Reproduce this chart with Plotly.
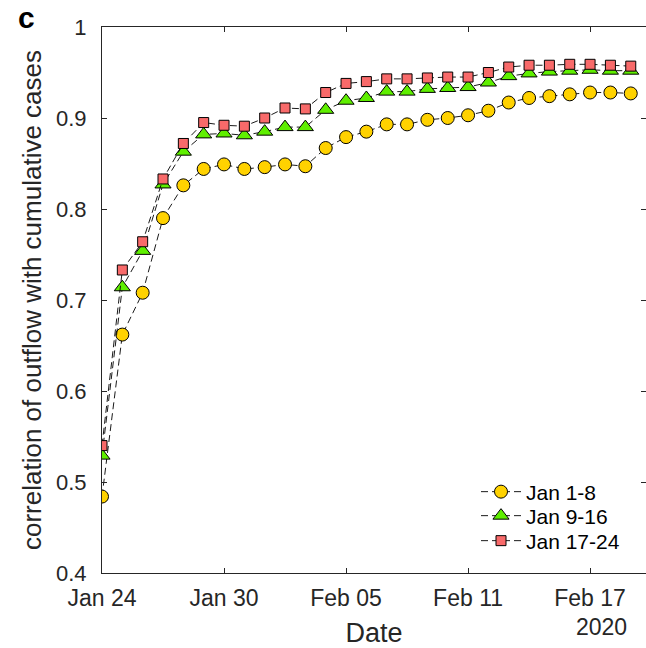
import plotly.graph_objects as go

dates = ["2020-01-24", "2020-01-25", "2020-01-26", "2020-01-27", "2020-01-28",
         "2020-01-29", "2020-01-30", "2020-01-31", "2020-02-01", "2020-02-02",
         "2020-02-03", "2020-02-04", "2020-02-05", "2020-02-06", "2020-02-07",
         "2020-02-08", "2020-02-09", "2020-02-10", "2020-02-11", "2020-02-12",
         "2020-02-13", "2020-02-14", "2020-02-15", "2020-02-16", "2020-02-17",
         "2020-02-18", "2020-02-19"]

jan_1_8 = [0.484, 0.662, 0.708, 0.790, 0.826, 0.844, 0.849, 0.844, 0.846, 0.849,
           0.847, 0.867, 0.879, 0.885, 0.893, 0.893, 0.898, 0.900, 0.903, 0.908,
           0.917, 0.922, 0.924, 0.926, 0.928, 0.928, 0.927]
jan_9_16 = [0.529, 0.714, 0.754, 0.827, 0.863, 0.882, 0.883, 0.881, 0.885, 0.890,
            0.890, 0.909, 0.919, 0.922, 0.929, 0.929, 0.932, 0.933, 0.934, 0.939,
            0.946, 0.949, 0.951, 0.952, 0.953, 0.952, 0.952]
jan_17_24 = [0.540, 0.733, 0.764, 0.833, 0.872, 0.895, 0.892, 0.891, 0.900, 0.911,
             0.910, 0.928, 0.938, 0.940, 0.943, 0.943, 0.944, 0.945, 0.945, 0.950,
             0.956, 0.958, 0.958, 0.959, 0.959, 0.958, 0.957]

series_names = ["Jan 1-8", "Jan 9-16", "Jan 17-24"]
y_ticks = [0.4, 0.5, 0.6, 0.7, 0.8, 0.9, 1.0]
y_tick_text = ["0.4", "0.5", "0.6", "0.7", "0.8", "0.9", "1"]

FONT = "Liberation Sans, Arial, Helvetica, sans-serif"
AX = "#262626"

styles = [
    dict(symbol="circle", size=13, color="#FFD200"),
    dict(symbol="triangle-up", size=14, color="#5FEF00"),
    dict(symbol="square", size=10, color="#F86A6A"),
]
legend_ids = ["legend", "legend2", "legend3"]
legend_rows_px = [492, 516, 541]

fig = go.Figure()
for name, vals, st, lid in zip(series_names, [jan_1_8, jan_9_16, jan_17_24], styles, legend_ids):
    fig.add_trace(go.Scatter(
        x=dates, y=vals, name=name, mode="lines+markers", legend=lid,
        line=dict(color="black", width=0.9, dash="7px,4px"),
        marker=dict(symbol=st["symbol"], size=st["size"], color=st["color"],
                    line=dict(color="black", width=1)),
    ))

# invisible trace to hold the right-side tick axis
fig.add_trace(go.Scatter(x=[dates[0]], y=[0.4], yaxis="y2", mode="markers",
                         marker=dict(opacity=0), showlegend=False, hoverinfo="skip"))

legend_common = dict(xanchor="left", yanchor="middle", bgcolor="rgba(0,0,0,0)",
                     font=dict(size=21, color="black"), itemwidth=40,
                     borderwidth=0)
legends = {}
for lid, ypx in zip(legend_ids, legend_rows_px):
    legends[lid] = dict(legend_common, x=(476 - 102) / 544, y=(573 - ypx) / 546)

fig.update_layout(
    width=646, height=648,
    margin=dict(l=102, r=0, t=27, b=75),
    paper_bgcolor="white", plot_bgcolor="white",
    font=dict(family=FONT, color=AX, size=22),
    showlegend=True,
    **legends,
    xaxis=dict(
        type="date", range=["2020-01-24", "2020-02-19 18:00"],
        tick0="2020-01-24", dtick=6 * 86400000, tickformat="%b %d",
        ticks="inside", ticklen=5, tickcolor=AX, tickwidth=1,
        showline=True, linecolor=AX, linewidth=1, mirror="ticks",
        showgrid=False, zeroline=False, ticklabelstandoff=4,
        tickfont=dict(size=23, color=AX),
        title=dict(text="Date", font=dict(size=27, color=AX), standoff=13),
    ),
    yaxis=dict(
        range=[0.4, 1.0], tickvals=y_ticks, ticktext=y_tick_text,
        ticks="inside", ticklen=5, tickcolor=AX, tickwidth=1,
        showline=True, linecolor=AX, linewidth=1,
        showgrid=False, zeroline=False, ticklabelstandoff=10,
        tickfont=dict(size=22, color=AX),
        title=dict(text="correlation of outflow with cumulative cases",
                   font=dict(size=26, color=AX), standoff=6),
    ),
    yaxis2=dict(
        range=[0.4, 1.0], tickvals=y_ticks, overlaying="y", side="right",
        ticks="inside", ticklen=5, tickcolor=AX, tickwidth=1,
        showline=False, showticklabels=False, showgrid=False, zeroline=False,
    ),
)

fig.add_annotation(text="2020", xref="paper", yref="paper",
                   x=(601 - 102) / 544, y=-(627 - 573) / 546,
                   xanchor="center", yanchor="middle", showarrow=False,
                   font=dict(size=23, color=AX))
fig.add_annotation(text="<b>c</b>", xref="paper", yref="paper",
                   x=(26 - 102) / 544, y=(573 - 17) / 546,
                   xanchor="center", yanchor="middle", showarrow=False,
                   font=dict(size=30, color="black", family="Liberation Sans, Arial"))

fig.write_html("out.html")
